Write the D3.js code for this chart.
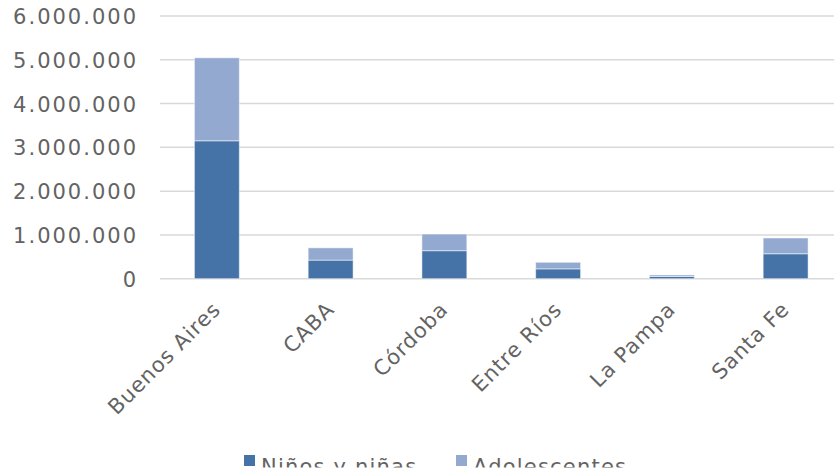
<!DOCTYPE html>
<html><head><meta charset="utf-8">
<script src="https://cdn.jsdelivr.net/npm/d3@7"></script>
<style>body{margin:0;background:#fff}svg{display:block}</style>
</head><body>
<svg id="c" width="834" height="474"></svg>
<script>
const categories = ["Buenos Aires","CABA","Córdoba","Entre Ríos","La Pampa","Santa Fe"];
const ninos = [3150000, 425000, 640000, 225000, 50000, 570000];
const adolescentes = [1895000, 280000, 380000, 150000, 35000, 360000];
const seriesNames = ["Niños y niñas","Adolescentes"];
const yTicks = [0,1000000,2000000,3000000,4000000,5000000,6000000];
const colors = ["#4673a7","#94a9d0"];

const svg = d3.select("#c");
const x = d3.scaleBand().domain(categories).range([160, 842.5]).paddingInner(0.605).paddingOuter(0.3025);
const y = d3.scaleLinear().domain([0, 6000000]).range([278.7, 16]);
const fmt = v => d3.format(",")(v).replace(/,/g, ".");
const font = "'DejaVu Sans', sans-serif";
const txt = "#636363";

// gridlines
svg.append("g").selectAll("line").data(yTicks).join("line")
  .attr("x1", 160).attr("x2", 834)
  .attr("y1", d => y(d)).attr("y2", d => y(d))
  .attr("stroke", "#d9d9d9").attr("stroke-width", 1.5);

// y axis labels
const yAxis = d3.axisLeft(y).tickValues(yTicks).tickFormat(fmt).tickSize(0).tickPadding(0);
const gy = svg.append("g").attr("transform", "translate(138,0)").call(yAxis);
gy.select(".domain").remove();
gy.selectAll("text").attr("font-family", font).attr("font-size", 21)
  .attr("letter-spacing", "2px").attr("fill", txt).attr("dy", "0.36em");

// stacked bars
const data = categories.map((c, i) => ({cat: c, n: ninos[i], a: adolescentes[i]}));
const stack = d3.stack().keys(["n","a"])(data);
svg.append("g").selectAll("g").data(stack).join("g")
  .attr("fill", (d, i) => colors[i])
  .selectAll("rect").data(d => d).join("rect")
  .attr("x", d => x(d.data.cat))
  .attr("width", x.bandwidth())
  .attr("y", d => y(d[1]))
  .attr("height", d => y(d[0]) - y(d[1]))
  .attr("stroke", "#ffffff").attr("stroke-opacity", 0.5).attr("stroke-width", 1);

// x labels
const xAxis = d3.axisBottom(x).tickSize(0).tickPadding(0);
const gx = svg.append("g").attr("transform", "translate(0,278.7)").call(xAxis);
gx.select(".domain").remove();
gx.selectAll("text")
  .attr("font-family", font).attr("font-size", 21).attr("letter-spacing", "1px")
  .attr("fill", txt).attr("text-anchor", "end")
  .attr("dy", null).attr("y", null)
  .attr("transform", "translate(5,32) rotate(-45)");

// legend, clipped at bottom as in the reference
svg.append("clipPath").attr("id", "lc").append("rect")
  .attr("x", 0).attr("y", 0).attr("width", 834).attr("height", 467.5);
const leg = svg.append("g").attr("clip-path", "url(#lc)");
const legX = [244, 456];
seriesNames.forEach((s, i) => {
  leg.append("rect").attr("x", legX[i]).attr("y", 455).attr("width", 11).attr("height", 11).attr("fill", colors[i]);
  leg.append("text").attr("x", legX[i] + 17).attr("y", 474)
    .attr("font-family", font).attr("font-size", 21).attr("letter-spacing", "1.2px")
    .attr("fill", txt).text(s);
});
</script>
</body></html>
